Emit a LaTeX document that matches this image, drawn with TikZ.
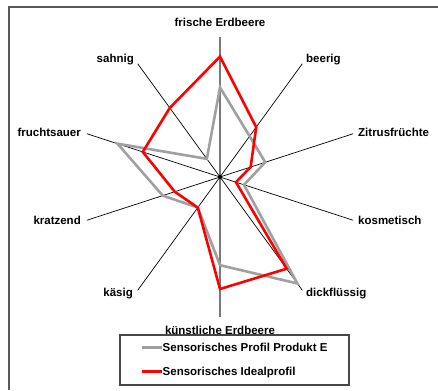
\documentclass[tikz,border=0pt]{standalone}
\usepackage{fontspec}
\setmainfont{Liberation Sans}
\usetikzlibrary{calc}
\begin{document}
\begin{tikzpicture}[x=1pt,y=1pt,
  lbl/.style={inner sep=0pt,font=\fontsize{11.5}{13}\selectfont\bfseries},
  axisline/.style={black,line width=0.7pt},
  mainaxis/.style={draw=gray!95!black,line width=1.8pt},
  profE/.style={draw={rgb,255:red,160;green,160;blue,160},line width=2.6pt,line join=miter},
  ideal/.style={draw={rgb,255:red,255;green,0;blue,0},line width=2.6pt,line join=miter},
  framel/.style={draw={rgb,255:red,90;green,90;blue,90},line width=1.6pt},
  legbox/.style={draw={rgb,255:red,70;green,70;blue,70},line width=1.2pt,fill=white}]
\useasboundingbox (0,0) rectangle (438,390);
% frame (top and left edges)
\coordinate (fTR) at (438,383);
\coordinate (fTL) at (9,383);
\coordinate (fBL) at (9,0);
\draw[framel] (fTR) -- (fTL) -- (fBL);
% center and axes
\coordinate (c) at (220,213);
\foreach \n/\a in {a1/90,a2/54,a3/18,a4/-18,a5/-54,a6/-90,a7/-126,a8/-162,a9/162,a10/126}{
  \coordinate (\n) at ($(c)+(\a:140)$);
}
\foreach \n in {a2,a3,a4,a5,a7,a8,a9,a10}{\draw[axisline] (c) -- (\n);}
\draw[mainaxis] (a1) -- (a6);
% data
\foreach \n/\a/\rv/\gv in {1/90/120.4/89.6,2/54/61.6/50.4,3/18/32.2/47.6,4/-18/16.8/25.2,5/-54/113.4/131.6,6/-90/112/88.2,7/-126/37.8/37.8,8/-162/47.6/60.2,9/162/81.2/107.8,10/126/85.4/22.4}{
  \coordinate (r\n) at ($(c)+(\a:\rv)$);
  \coordinate (g\n) at ($(c)+(\a:\gv)$);
}
\draw[profE] (g1) -- (g2) -- (g3) -- (g4) -- (g5) -- (g6) -- (g7) -- (g8) -- (g9) -- (g10) -- cycle;
\draw[ideal] (r1) -- (r2) -- (r3) -- (r4) -- (r5) -- (r6) -- (r7) -- (r8) -- (r9) -- (r10) -- cycle;
\fill[black] (c) circle (2);
% labels
\node[lbl,anchor=base] (l1) at (220,363.3) {frische Erdbeere};
\node[lbl,anchor=base west] (l2) at (306,327.3) {beerig};
\node[lbl,anchor=base west] (l3) at (358,253.3) {Zitrusfrüchte};
\node[lbl,anchor=base west] (l4) at (358,165.5) {kosmetisch};
\node[lbl,anchor=base west] (l5) at (306,93) {dickflüssig};
\node[lbl,anchor=base] (l6) at (220,55.5) {künstliche Erdbeere};
\node[lbl,anchor=base east] (l7) at (133,93) {käsig};
\node[lbl,anchor=base east] (l8) at (81,165.5) {kratzend};
\node[lbl,anchor=base east] (l9) at (81,253.3) {fruchtsauer};
\node[lbl,anchor=base east] (l10) at (134,327.3) {sahnig};
% legend
\draw[legbox] (120,55) rectangle (349,5);
\coordinate (lg1a) at (141.7,42.7);
\coordinate (lg1b) at (161.7,42.7);
\coordinate (lg2a) at (141.7,18.3);
\coordinate (lg2b) at (161.7,18.3);
\draw[profE] (lg1a) -- (lg1b);
\draw[ideal] (lg2a) -- (lg2b);
\node[lbl,anchor=base west] (t1) at (162.5,38.5) {Sensorisches Profil Produkt E};
\node[lbl,anchor=base west] (t2) at (162.5,14.5) {Sensorisches Idealprofil};
\end{tikzpicture}
\end{document}
